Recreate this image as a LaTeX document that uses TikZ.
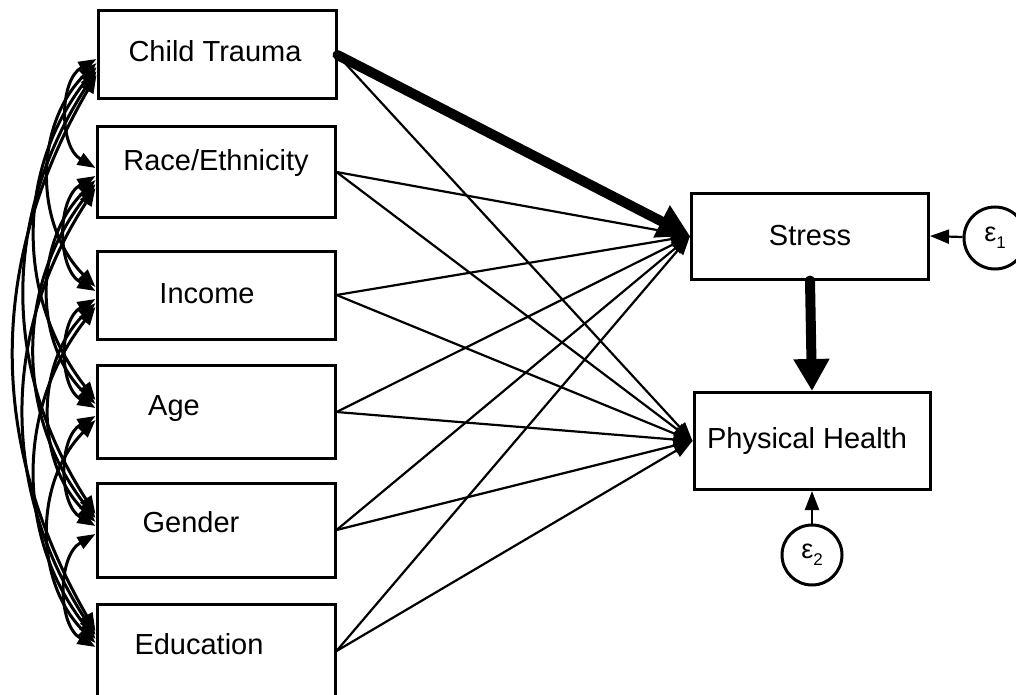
\documentclass[tikz,border=0pt]{standalone}
\usepackage{fontspec}
\setmainfont{Liberation Sans}
\usetikzlibrary{arrows.meta,calc}

\newcommand{\errlabel}[1]{{\fontsize{27}{27}\selectfont ε}\raisebox{-7pt}{\fontsize{17}{17}\selectfont #1}}

\begin{document}
\begin{tikzpicture}[x=1pt, y=-1pt,
  var/.style={draw, line width=3pt, minimum width=238pt, minimum height=90pt, inner sep=0pt},
  lbl/.style={font=\fontsize{29}{34}\selectfont, inner sep=0pt, anchor=base},
  reg/.style={line width=2.2pt, -{Triangle[length=19pt,width=14pt]}},
  heavy/.style={line width=10pt, line cap=round, -{Triangle[length=32pt,width=34pt]}},
  cov/.style={line width=3pt, {Triangle[length=18pt,width=13pt]}-{Triangle[length=18pt,width=13pt]}},
  err/.style={draw, circle, line width=3pt, minimum size=62pt, inner sep=0pt}]

  % Bounding box of the scheme
  \useasboundingbox (0,0) rectangle (1016,695);
  \clip (0,0) rectangle (1016,695);

  %%%%%%%%%%%%%%%%%%%%%%%%%%%%%%%%% Exogenous variables %%%%%%%%%%%%%%%%%%%%%%%%%%%%%%%%%%%%
  \draw (217,55)  node[var, minimum height=88pt] (1) {} ;
  \draw (216,172) node[var] (2) {} ;
  \draw (216,295) node[var, minimum height=88pt] (3) {} ;
  \draw (216,412) node[var, minimum height=93pt] (4) {} ;
  \draw (216,530) node[var, minimum height=94pt] (5) {} ;
  \draw (216,651) node[var, minimum height=93pt] (6) {} ;

  \draw (215,62)  node[lbl] (l1) {Child Trauma} ;
  \draw (216,171) node[lbl] (l2) {Race/Ethnicity} ;
  \draw (207,303) node[lbl] (l3) {Income} ;
  \draw (174,415) node[lbl] (l4) {Age} ;
  \draw (191,532) node[lbl] (l5) {Gender} ;
  \draw (199,654) node[lbl] (l6) {Education} ;

  %%%%%%%%%%%%%%%%%%%%%%%%%%%%%%%%% Endogenous variables %%%%%%%%%%%%%%%%%%%%%%%%%%%%%%%%%%%
  \draw (810,236) node[var, minimum width=237pt, minimum height=86pt] (7) {} ;
  \draw (812,441) node[var, minimum width=236pt, minimum height=97pt] (8) {} ;

  \draw (810,245) node[lbl] (l7) {Stress} ;
  \draw (807,448) node[lbl] (l8) {Physical Health} ;

  % Erreurs
  \draw (995,238) node[err] (e1) {\errlabel{1}} ;
  \draw (812,555) node[err, minimum size=60pt] (e2) {\errlabel{2}} ;

  %%%%%%%%%%%%%%%%%%%%%%%%%%%%%%%%%%%% Chemins %%%%%%%%%%%%%%%%%%%%%%%%%%%%%%%%%%%%%%%%%%%%%
  \draw[heavy] (1.east) -- (7.west) ;
  \foreach \i in {2,...,6} {
    \draw[reg] (\i.east) -- (7.west) ;
  }
  \foreach \i in {1,...,6} {
    \draw[reg] (\i.east) -- (8.west) ;
  }
  \draw[heavy] (7.south) -- (8.north) ;

  \draw[reg] (e1) -- (7.east) ;
  \draw[reg] (e2) -- (8.south) ;

  %%%%%%%%%%%%%%%%%%%%%%%%%%%%%%%%%%%% Covariances %%%%%%%%%%%%%%%%%%%%%%%%%%%%%%%%%%%%%%%%%
  \foreach \i in {1,...,5} {
    \pgfmathtruncatemacro{\jmin}{\i+1}
    \foreach \j in {\jmin,...,6} {
      \pgfmathsetmacro{\ang}{{60,45,38,33,30}[\j-\i-1]}
      \draw[cov] ($(\i.west)+(0,{(\j-\i)*4})$) to[bend right=\ang] ($(\j.west)+(0,{(\i-\j)*4})$) ;
    }
  }

\end{tikzpicture}
\end{document}
